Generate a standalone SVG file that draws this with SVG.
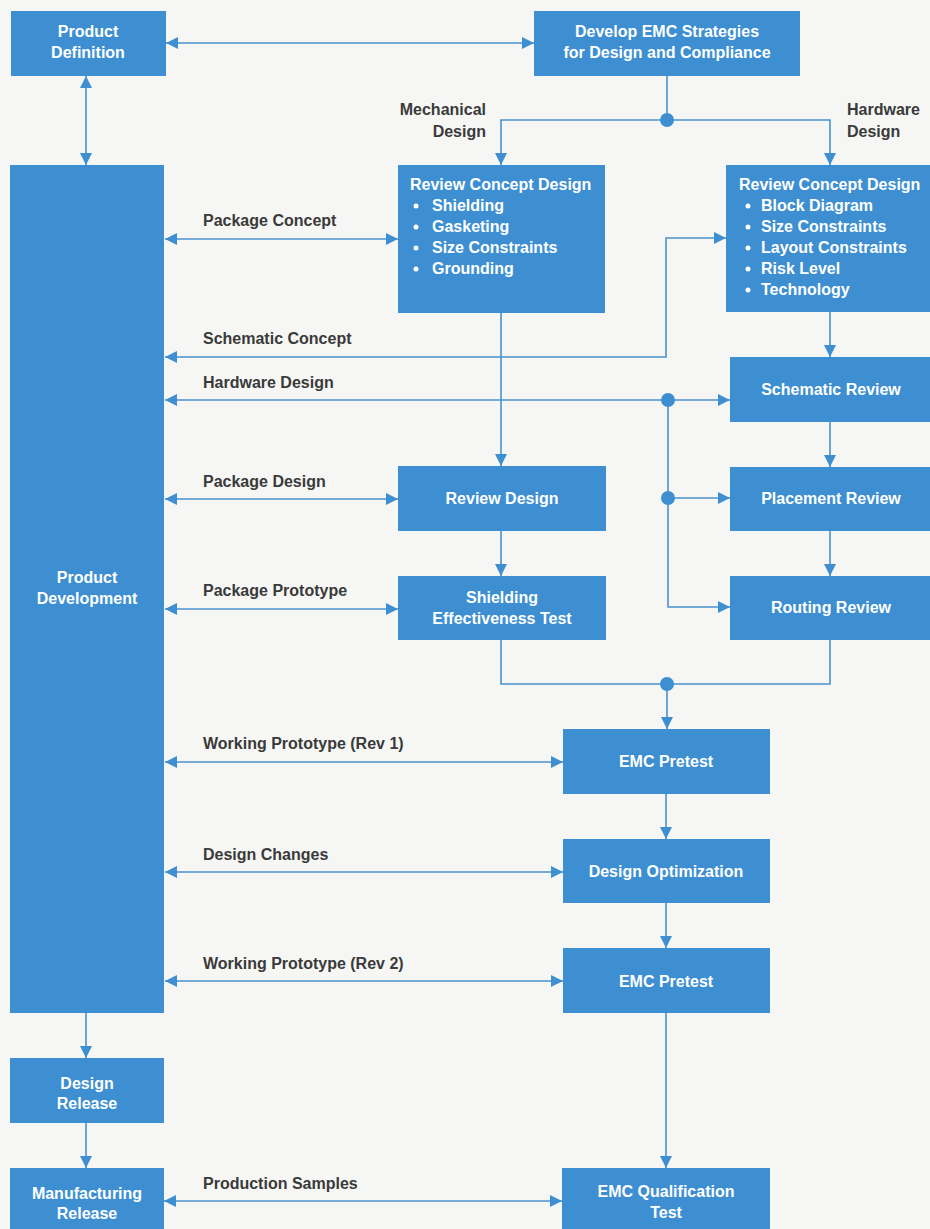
<svg xmlns="http://www.w3.org/2000/svg" width="930" height="1229" viewBox="0 0 930 1229">
<style>
.box{fill:#3d8fd1}
.bt{fill:#ffffff;font-family:"Liberation Sans",Arial,sans-serif;font-weight:bold;font-size:16px}
.c{text-anchor:middle}
.lb{fill:#3a3a3a;font-family:"Liberation Sans",Arial,sans-serif;font-weight:bold;font-size:16px}
.ln{fill:none;stroke:#4a92cc;stroke-width:1.6}
.dot{fill:#3d8fd1}
.bul{fill:#ffffff}
</style>
<defs>
<marker id="arr" viewBox="0 0 12 12" refX="12" refY="6" markerWidth="12" markerHeight="12" orient="auto-start-reverse" markerUnits="userSpaceOnUse">
<path d="M0,0 L12,6 L0,12 z" fill="#3d8fd1"/>
</marker>
</defs>
<rect x="0" y="0" width="930" height="1229" fill="#f6f7f4"/>

<g id="connectors">
<path class="ln" d="M166,43 H534" marker-start="url(#arr)" marker-end="url(#arr)"/>
<path class="ln" d="M86,76 V165" marker-start="url(#arr)" marker-end="url(#arr)"/>
<path class="ln" d="M667,76 V120"/>
<path class="ln" d="M667,120 H501 V165" marker-end="url(#arr)"/>
<path class="ln" d="M667,120 H830 V165" marker-end="url(#arr)"/>
<circle class="dot" cx="667" cy="120" r="7"/>
<path class="ln" d="M165,239 H398" marker-start="url(#arr)" marker-end="url(#arr)"/>
<path class="ln" d="M726,238 H666 V357 H165" marker-start="url(#arr)" marker-end="url(#arr)"/>
<path class="ln" d="M165,400 H730" marker-start="url(#arr)" marker-end="url(#arr)"/>
<path class="ln" d="M668,400 V607 H730" marker-end="url(#arr)"/>
<path class="ln" d="M668,498 H730" marker-end="url(#arr)"/>
<circle class="dot" cx="668" cy="400" r="7"/>
<circle class="dot" cx="668" cy="498" r="7"/>
<path class="ln" d="M501,313 V466" marker-end="url(#arr)"/>
<path class="ln" d="M501,531 V576" marker-end="url(#arr)"/>
<path class="ln" d="M830,312 V357" marker-end="url(#arr)"/>
<path class="ln" d="M830,422 V467" marker-end="url(#arr)"/>
<path class="ln" d="M830,531 V576" marker-end="url(#arr)"/>
<path class="ln" d="M165,499 H398" marker-start="url(#arr)" marker-end="url(#arr)"/>
<path class="ln" d="M165,609 H398" marker-start="url(#arr)" marker-end="url(#arr)"/>
<path class="ln" d="M501,640 V684 H830 V640"/>
<path class="ln" d="M667,684 V729" marker-end="url(#arr)"/>
<circle class="dot" cx="667" cy="684" r="7"/>
<path class="ln" d="M165,762 H563" marker-start="url(#arr)" marker-end="url(#arr)"/>
<path class="ln" d="M165,872 H563" marker-start="url(#arr)" marker-end="url(#arr)"/>
<path class="ln" d="M165,981 H563" marker-start="url(#arr)" marker-end="url(#arr)"/>
<path class="ln" d="M666,794 V839" marker-end="url(#arr)"/>
<path class="ln" d="M666,903 V948" marker-end="url(#arr)"/>
<path class="ln" d="M666,1013 V1168" marker-end="url(#arr)"/>
<path class="ln" d="M86,1013 V1058" marker-end="url(#arr)"/>
<path class="ln" d="M86,1123 V1168" marker-end="url(#arr)"/>
<path class="ln" d="M164,1201 H562" marker-start="url(#arr)" marker-end="url(#arr)"/>
</g>

<g id="labels">
<text class="lb" x="486" y="115" text-anchor="end">Mechanical</text>
<text class="lb" x="486" y="137" text-anchor="end">Design</text>
<text class="lb" x="847" y="115">Hardware</text>
<text class="lb" x="847" y="137">Design</text>
<text class="lb" x="203" y="226">Package Concept</text>
<text class="lb" x="203" y="344">Schematic Concept</text>
<text class="lb" x="203" y="388">Hardware Design</text>
<text class="lb" x="203" y="487">Package Design</text>
<text class="lb" x="203" y="596">Package Prototype</text>
<text class="lb" x="203" y="749">Working Prototype (Rev 1)</text>
<text class="lb" x="203" y="860">Design Changes</text>
<text class="lb" x="203" y="969">Working Prototype (Rev 2)</text>
<text class="lb" x="203" y="1189">Production Samples</text>
</g>

<g id="product-definition">
<rect class="box" x="11" y="11" width="155" height="65"/>
<text class="bt c" x="88" y="37">Product</text>
<text class="bt c" x="88" y="58">Definition</text>
</g>
<g id="develop-emc">
<rect class="box" x="534" y="11" width="266" height="65"/>
<text class="bt c" x="667" y="37">Develop EMC Strategies</text>
<text class="bt c" x="667" y="58">for Design and Compliance</text>
</g>
<g id="product-development">
<rect class="box" x="10" y="165" width="154" height="848"/>
<text class="bt c" x="87" y="583">Product</text>
<text class="bt c" x="87" y="604">Development</text>
</g>
<g id="mech-concept">
<rect class="box" x="398" y="165" width="207" height="148"/>
<text class="bt" x="410" y="190">Review Concept Design</text>
<circle class="bul" cx="416" cy="206" r="2.5"/><text class="bt" x="432" y="211">Shielding</text>
<circle class="bul" cx="416" cy="227" r="2.5"/><text class="bt" x="432" y="232">Gasketing</text>
<circle class="bul" cx="416" cy="248" r="2.5"/><text class="bt" x="432" y="253">Size Constraints</text>
<circle class="bul" cx="416" cy="269" r="2.5"/><text class="bt" x="432" y="274">Grounding</text>
</g>
<g id="hw-concept">
<rect class="box" x="726" y="165" width="204" height="147"/>
<text class="bt" x="739" y="190">Review Concept Design</text>
<circle class="bul" cx="748" cy="206" r="2.5"/><text class="bt" x="761" y="211">Block Diagram</text>
<circle class="bul" cx="748" cy="227" r="2.5"/><text class="bt" x="761" y="232">Size Constraints</text>
<circle class="bul" cx="748" cy="248" r="2.5"/><text class="bt" x="761" y="253">Layout Constraints</text>
<circle class="bul" cx="748" cy="269" r="2.5"/><text class="bt" x="761" y="274">Risk Level</text>
<circle class="bul" cx="748" cy="290" r="2.5"/><text class="bt" x="761" y="295">Technology</text>
</g>
<g id="schematic-review">
<rect class="box" x="730" y="357" width="200" height="65"/>
<text class="bt c" x="831" y="395">Schematic Review</text>
</g>
<g id="placement-review">
<rect class="box" x="730" y="467" width="200" height="64"/>
<text class="bt c" x="831" y="504">Placement Review</text>
</g>
<g id="routing-review">
<rect class="box" x="730" y="576" width="200" height="64"/>
<text class="bt c" x="831" y="613">Routing Review</text>
</g>
<g id="review-design">
<rect class="box" x="398" y="466" width="208" height="65"/>
<text class="bt c" x="502" y="504">Review Design</text>
</g>
<g id="shielding-test">
<rect class="box" x="398" y="576" width="208" height="64"/>
<text class="bt c" x="502" y="603">Shielding</text>
<text class="bt c" x="502" y="624">Effectiveness Test</text>
</g>
<g id="emc-pretest-1">
<rect class="box" x="563" y="729" width="207" height="65"/>
<text class="bt c" x="666" y="767">EMC Pretest</text>
</g>
<g id="design-optimization">
<rect class="box" x="563" y="839" width="207" height="64"/>
<text class="bt c" x="666" y="877">Design Optimization</text>
</g>
<g id="emc-pretest-2">
<rect class="box" x="563" y="948" width="207" height="65"/>
<text class="bt c" x="666" y="987">EMC Pretest</text>
</g>
<g id="design-release">
<rect class="box" x="10" y="1058" width="154" height="65"/>
<text class="bt c" x="87" y="1089">Design</text>
<text class="bt c" x="87" y="1109">Release</text>
</g>
<g id="manufacturing-release">
<rect class="box" x="10" y="1168" width="154" height="61"/>
<text class="bt c" x="87" y="1199">Manufacturing</text>
<text class="bt c" x="87" y="1219">Release</text>
</g>
<g id="emc-qualification">
<rect class="box" x="562" y="1168" width="208" height="61"/>
<text class="bt c" x="666" y="1197">EMC Qualification</text>
<text class="bt c" x="666" y="1218">Test</text>
</g>
</svg>
